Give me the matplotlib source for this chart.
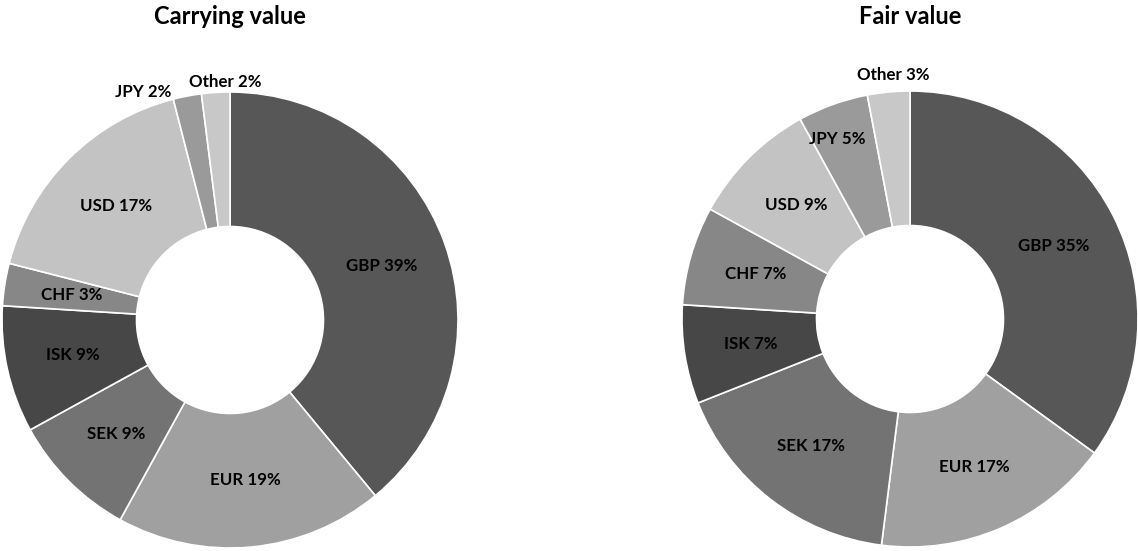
import numpy as np
import matplotlib.pyplot as plt

plt.rcParams['font.family'] = ['Lato', 'DejaVu Sans']

# currency split, clockwise from 12 o'clock
currencies = ['GBP', 'EUR', 'SEK', 'ISK', 'CHF', 'USD', 'JPY', 'Other']
carrying_pct = [39, 19, 9, 9, 3, 17, 2, 2]
fair_pct = [35, 17, 17, 7, 7, 9, 5, 3]

colours = ['#575757', '#a0a0a0', '#737373', '#474747',
           '#878787', '#c3c3c3', '#9a9a9a', '#c8c8c8']

# labels that don't sit in the middle of their wedge (x, y in radius units)
carrying_label_pos = {'JPY': (-0.382, 1.0), 'Other': (-0.022, 1.044)}
fair_label_pos = {'JPY': (-0.32, 0.789), 'Other': (-0.075, 1.07)}

W, H = 1138, 551
HOLE = 0.41


def draw_donut(ax, values, label_pos):
    wedges, _ = ax.pie(values, colors=colours, startangle=90, counterclock=False,
                       radius=1.0,
                       wedgeprops=dict(width=1 - HOLE, edgecolor='white', linewidth=1.2))
    mid_r = (1 + HOLE) / 2
    for w, name, v in zip(wedges, currencies, values):
        if name in label_pos:
            x, y = label_pos[name]
        else:
            ang = np.deg2rad((w.theta1 + w.theta2) / 2)
            x, y = mid_r * np.cos(ang), mid_r * np.sin(ang)
        ax.text(x, y, f'{name} {v}%', ha='center', va='center',
                fontsize=12.2, fontweight='bold', color='black')
    ax.set_xlim(-1, 1)
    ax.set_ylim(-1, 1)
    ax.set_aspect('equal')
    ax.axis('off')


fig = plt.figure(figsize=(W / 100, H / 100), dpi=100)

r_px = 228
ax1 = fig.add_axes([(230 - r_px) / W, (H - 320 - r_px) / H, 2 * r_px / W, 2 * r_px / H])
ax2 = fig.add_axes([(910 - r_px) / W, (H - 319 - r_px) / H, 2 * r_px / W, 2 * r_px / H])

draw_donut(ax1, carrying_pct, carrying_label_pos)
draw_donut(ax2, fair_pct, fair_label_pos)

fig.text(230 / W, 1 - 17 / H, 'Carrying value', ha='center', va='center',
         fontsize=17, fontweight='bold')
fig.text(910 / W, 1 - 17 / H, 'Fair value', ha='center', va='center',
         fontsize=17, fontweight='bold')

fig.savefig('out.png', dpi=100)
